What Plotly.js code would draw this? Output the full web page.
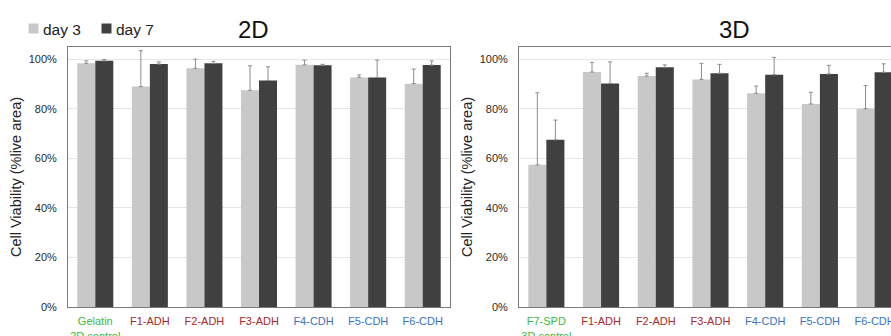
<!DOCTYPE html>
<html>
<head>
<meta charset="utf-8">
<script src="https://cdn.plot.ly/plotly-3.0.1.min.js"></script>
<style>html,body{margin:0;padding:0;background:#fff;}#chart{width:891px;height:336px;}</style>
</head>
<body>
<div id="chart"></div>
<script>
// ---- data ----
var categories2D = ['Gelatin<br>2D control', 'F1-ADH', 'F2-ADH', 'F3-ADH', 'F4-CDH', 'F5-CDH', 'F6-CDH'];
var categories3D = ['F7-SPD<br>3D control', 'F1-ADH', 'F2-ADH', 'F3-ADH', 'F4-CDH', 'F5-CDH', 'F6-CDH'];
var labelGroup   = ['control', 'ADH', 'ADH', 'ADH', 'CDH', 'CDH', 'CDH'];
var seriesNames  = ['day 3', 'day 7'];

var day3_2D     = [98.4, 89.0, 96.4, 87.5, 97.8, 92.7, 90.2];
var day3_2D_err = [1.0, 14.5, 3.7, 9.9, 1.9, 1.0, 5.9];
var day7_2D     = [99.4, 98.1, 98.4, 91.5, 97.6, 92.7, 97.7];
var day7_2D_err = [0.6, 0.9, 0.8, 5.5, 0.4, 7.0, 1.7];

var day3_3D     = [57.4, 94.9, 93.3, 91.9, 86.3, 82.0, 80.1];
var day3_3D_err = [29.1, 3.9, 1.1, 6.5, 2.9, 4.7, 9.3];
var day7_3D     = [67.5, 90.3, 96.8, 94.4, 93.8, 94.1, 94.8];
var day7_3D_err = [8.0, 8.7, 1.0, 3.6, 7.0, 3.5, 3.4];

var yTicks = [0, 20, 40, 60, 80, 100];
var yTickLabels = ['0%', '20%', '40%', '60%', '80%', '100%'];

// ---- styling ----
var FONT = 'Liberation Sans, Arial, Helvetica, sans-serif';
var LIGHT = '#c8c8c8', DARK = '#404040';
var groupColor = {control: '#3cb83c', ADH: '#a8282c', CDH: '#3a72c4'};

function zeros(n){ var a=[]; for(var i=0;i<n;i++) a.push(0); return a; }
function errStyle(arr){
  return {type:'data', symmetric:false, array:arr, arrayminus:zeros(arr.length),
          color:'#8c8c8c', thickness:1, width:2};
}
function colored(cats){
  return cats.map(function(c,i){ return '<span style="color:'+groupColor[labelGroup[i]]+'">'+c+'</span>'; });
}

var traces = [
  {type:'bar', name:seriesNames[0], x:categories2D, y:day3_2D, error_y:errStyle(day3_2D_err),
   marker:{color:LIGHT}, xaxis:'x', yaxis:'y', showlegend:false, hoverinfo:'y'},
  {type:'bar', name:seriesNames[1], x:categories2D, y:day7_2D, error_y:errStyle(day7_2D_err),
   marker:{color:DARK}, xaxis:'x', yaxis:'y', showlegend:false, hoverinfo:'y'},
  {type:'bar', name:seriesNames[0], x:categories3D, y:day3_3D, error_y:errStyle(day3_3D_err),
   marker:{color:LIGHT}, xaxis:'x2', yaxis:'y2', showlegend:false, hoverinfo:'y'},
  {type:'bar', name:seriesNames[1], x:categories3D, y:day7_3D, error_y:errStyle(day7_3D_err),
   marker:{color:DARK}, xaxis:'x2', yaxis:'y2', showlegend:false, hoverinfo:'y'}
];

var W = 891, H = 336, ML = 68, MR = 0, MT = 47, MB = 29;
var PW = W - ML - MR, PH = H - MT - MB;
function px(x){ return (x - ML) / PW; }
function py(y){ return (H - MB - y) / PH; }

function xax(domain, cats, range){
  return {domain:domain, type:'category', range:range, tickvals:cats, ticktext:colored(cats),
          tickfont:{family:FONT, size:11}, showline:true, linecolor:'#7a7a7a', linewidth:1, mirror:true,
          ticks:'', ticklabelstandoff:4, showgrid:false, zeroline:false, fixedrange:true};
}
function yax(anchor){
  return {anchor:anchor, range:[0,105], tickvals:yTicks, ticktext:yTickLabels,
          tickfont:{family:FONT, size:11, color:'#2a2a2a'}, showline:true, linecolor:'#7a7a7a', linewidth:1, mirror:true,
          gridcolor:'#e6e6e6', gridwidth:1, zeroline:false, ticks:'', ticklabelstandoff:8,
          title:{text:'Cell Viability (%live area)', font:{family:FONT, size:14.5, color:'#222222'}, standoff:3},
          fixedrange:true};
}

// legend (drawn as small squares + texts, matching the tight layout of the reference)
var legendItems = [
  {name:seriesNames[0], color:LIGHT, sx:28.5, tx:40.5},
  {name:seriesNames[1], color:DARK,  sx:101.5, tx:113.5}
];
var shapes = legendItems.map(function(it){
  return {type:'rect', xref:'paper', yref:'paper', x0:px(it.sx), x1:px(it.sx+10), y0:py(33.5), y1:py(23.5),
          fillcolor:it.color, line:{width:0}};
});
var annotations = legendItems.map(function(it){
  return {text:it.name, xref:'paper', yref:'paper', x:px(it.tx), y:py(29), xanchor:'left', yanchor:'middle',
          showarrow:false, font:{family:FONT, size:15.5, color:'#222222'}};
});
annotations.push(
  {text:'2D', xref:'paper', yref:'paper', x:px(253.5), y:py(29), xanchor:'center', yanchor:'middle',
   showarrow:false, font:{family:FONT, size:24, color:'#111111'}},
  {text:'3D', xref:'paper', yref:'paper', x:px(734), y:py(29), xanchor:'center', yanchor:'middle',
   showarrow:false, font:{family:FONT, size:24, color:'#111111'}}
);

var layout = {
  width:W, height:H,
  margin:{l:ML, r:MR, t:MT, b:MB, pad:0},
  paper_bgcolor:'#fff', plot_bgcolor:'#fff',
  font:{family:FONT, color:'#222'},
  barmode:'group', bargap:0.34, bargroupgap:0,
  xaxis: xax([0, px(450)], categories2D, [-0.5, 6.5]),
  xaxis2: Object.assign(xax([px(519), 1], categories3D, [-0.5, 6.3]), {anchor:'y2'}),
  yaxis: yax('x'),
  yaxis2: yax('x2'),
  showlegend:false,
  shapes:shapes,
  annotations:annotations
};

Plotly.newPlot('chart', traces, layout, {displayModeBar:false, staticPlot:true});
</script>
</body>
</html>
